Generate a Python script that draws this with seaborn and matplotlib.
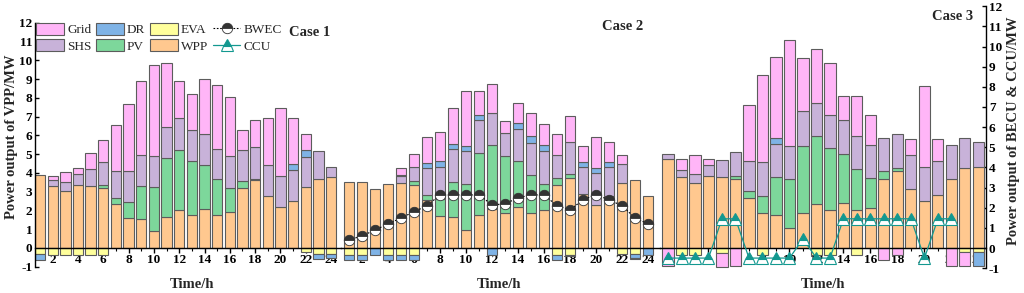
import numpy as np
import matplotlib
matplotlib.use("Agg")
import matplotlib.pyplot as plt
import seaborn as sns
from matplotlib.patches import Patch
from matplotlib.lines import Line2D

# ---------------- data ----------------
hours = list(range(1, 25))
even_ticks = list(range(2, 25, 2))
y_ticks = list(range(-1, 13))

# Case 1
c1_wpp = [3.9, 3.3, 3.05, 3.35, 3.3, 3.2, 2.35, 1.6, 1.55, 0.9, 1.65, 2.05, 1.75, 2.1, 1.75, 1.9, 3.2, 3.6, 2.75, 2.2, 2.5, 3.25, 3.7, 3.8]
c1_pv = [0, 0, 0, 0, 0, 0.15, 0.3, 0.85, 1.75, 2.35, 3.15, 3.15, 2.9, 2.3, 1.95, 1.3, 0.35, 0.1, 0, 0, 0, 0, 0, 0]
c1_shs = [0, 0.3, 0.45, 0.6, 0.9, 1.25, 1.45, 1.65, 1.65, 1.65, 1.65, 1.7, 1.65, 1.65, 1.6, 1.7, 1.65, 1.7, 1.65, 1.65, 1.65, 1.6, 1.45, 0.5]
c1_dr_pos = [0, 0, 0, 0, 0, 0, 0, 0, 0, 0, 0, 0, 0, 0, 0, 0, 0, 0, 0, 0, 0.3, 0.35, 0, 0]
c1_grid_pos = [0, 0.25, 0.55, 0.3, 0.85, 1.15, 2.45, 3.55, 3.95, 4.85, 3.4, 2.0, 1.9, 2.95, 3.4, 3.15, 1.1, 1.4, 2.55, 3.6, 2.5, 0.85, 0, 0]
c1_eva = [-0.3, -0.35, -0.35, -0.35, -0.35, -0.35, 0, 0, 0, 0, 0, 0, 0, 0, 0, 0, 0, 0, 0, 0, 0, -0.2, -0.3, -0.3]
c1_dr_neg = [-0.35, 0, 0, 0, 0, 0, 0, 0, 0, 0, 0, 0, 0, 0, 0, 0, 0, 0, 0, 0, 0, 0, -0.3, -0.25]
c1_grid_neg = [0] * 24

# Case 2
c2_wpp = [3.5, 3.5, 3.15, 3.4, 3.45, 3.35, 2.55, 1.7, 1.65, 0.95, 1.75, 2.1, 1.85, 2.2, 1.85, 2.0, 3.35, 3.75, 2.9, 2.3, 2.75, 3.45, 3.6, 2.75]
c2_pv = [0, 0, 0, 0, 0, 0.2, 0.3, 0.9, 1.85, 2.45, 3.3, 3.4, 3.05, 2.45, 2.05, 1.4, 0.4, 0.2, 0, 0, 0, 0, 0, 0]
c2_shs = [0, 0, 0, 0, 0.4, 0.75, 1.4, 1.7, 1.75, 1.75, 1.75, 1.7, 1.25, 1.7, 1.7, 1.75, 1.2, 1.7, 1.4, 1.7, 1.55, 1.0, 0, 0]
c2_dr_pos = [0, 0, 0, 0, 0.05, 0, 0.28, 0.32, 0.27, 0.3, 0.3, 0, 0, 0.3, 0.35, 0.32, 0, 0, 0.3, 0.28, 0.3, 0, 0, 0]
c2_grid_pos = [0, 0, 0, 0, 0.38, 0.7, 1.4, 1.55, 1.95, 2.9, 1.25, 1.55, 0.6, 1.05, 1.25, 1.15, 1.1, 1.4, 0.85, 1.65, 1.05, 0.5, 0, 0]
c2_eva = [-0.35, -0.35, 0, -0.35, -0.35, -0.35, 0, 0, 0, 0, 0, 0, 0, 0, 0, 0, -0.35, -0.35, 0, 0, 0, -0.3, -0.3, 0]
c2_dr_neg = [-0.3, -0.3, -0.35, -0.3, -0.3, -0.3, 0, 0, 0, 0, 0, -0.35, 0, 0, 0, 0, -0.3, -0.1, 0, 0, 0, 0, -0.25, -0.35]
c2_grid_neg = [0, 0, 0, 0, 0, 0, 0, 0, 0, 0, 0, 0, 0, 0, 0, 0, 0, 0, 0, 0, 0, 0, -0.05, 0]
c2_bwec = [0.43, 0.64, 0.96, 1.28, 1.6, 1.93, 2.25, 2.83, 2.83, 2.83, 2.83, 2.3, 2.35, 2.67, 2.83, 2.83, 2.25, 2.03, 2.57, 2.83, 2.57, 2.25, 1.6, 1.28]

# Case 3
c3_wpp = [4.41, 3.5, 3.22, 3.58, 3.5, 3.41, 2.47, 1.72, 1.63, 0.98, 1.76, 2.19, 1.91, 2.23, 1.91, 1.98, 3.44, 3.81, 2.93, 2.35, 2.65, 3.44, 3.97, 4.02]
c3_pv = [0, 0, 0, 0, 0, 0.14, 0.34, 0.88, 1.87, 2.43, 3.32, 3.38, 3.06, 2.44, 2.01, 1.5, 0.36, 0.17, 0, 0, 0, 0, 0, 0]
c3_shs = [0.24, 0.38, 0.47, 0.54, 0.88, 1.23, 1.49, 1.66, 1.65, 1.67, 1.7, 1.65, 1.65, 1.66, 1.65, 1.65, 1.65, 1.7, 1.67, 1.65, 1.69, 1.69, 1.49, 1.24]
c3_dr_pos = [0, 0, 0, 0, 0, 0, 0, 0, 0.3, 0, 0, 0, 0, 0, 0, 0, 0, 0, 0, 0, 0, 0, 0, 0]
c3_grid_pos = [0, 0.53, 0.94, 0.3, 0, 0, 2.81, 4.34, 4.03, 5.25, 2.66, 2.66, 2.56, 1.19, 1.99, 1.49, 0, 0, 0.81, 4.02, 1.08, 0, 0, 0]
c3_eva = [0, -0.33, -0.33, 0, -0.23, 0, 0, -0.33, 0, 0, 0, -0.33, -0.33, 0, -0.33, 0, 0, 0, 0, 0, 0, 0, -0.19, -0.19]
c3_dr_neg = [0, 0, 0, 0, 0, 0, 0, 0, 0, 0, 0, 0, 0, 0, 0, 0, 0, 0, 0, 0, 0, 0, 0, -0.7]
c3_grid_neg = [-0.9, 0, 0, 0, -0.7, -0.9, 0, 0, 0, 0, 0, 0, 0, 0, 0, 0, -0.6, -0.33, 0, 0, 0, -0.9, -0.7, 0]
c3_ccu = [-0.5, -0.5, -0.5, -0.5, 1.45, 1.45, -0.5, -0.5, -0.5, -0.5, 0.45, -0.5, -0.5,
          1.45, 1.45, 1.45, 1.45, 1.45, 1.45, -0.5, 1.45, 1.45, np.nan, np.nan]

# ---------------- style ----------------
C_GRID = "#FFB5F7"
C_SHS = "#C8B2D9"
C_DR = "#7FB3E6"
C_PV = "#7DD79B"
C_EVA = "#FFFF9C"
C_WPP = "#FFC88F"
C_CCU = "#139890"
EDGE = "#5c5c5c"

sns.set_theme(style="white")
plt.rcParams["font.family"] = ["Liberation Serif", "DejaVu Serif"]
plt.rcParams["axes.linewidth"] = 1.0

W, H = 1024, 293
fig = plt.figure(figsize=(W / 100, H / 100), dpi=100)


def px_axes(x0, x1, y0=5, y1=269):
    return fig.add_axes([x0 / W, 1 - y1 / H, (x1 - x0) / W, (y1 - y0) / H])


ax1 = px_axes(35, 341)
ax2 = px_axes(341, 660)
ax3 = px_axes(660, 986)


def draw_case(ax, pos_layers, neg_layers):
    x = np.array(hours)
    bottom = np.zeros(24)
    for vals, color in pos_layers:
        v = np.array(vals, float)
        m = v != 0
        ax.bar(x[m], v[m], bottom=bottom[m], width=0.82, color=color,
               edgecolor=EDGE, linewidth=0.8, zorder=2)
        bottom += v
    nb = np.zeros(24)
    for vals, color in neg_layers:
        v = np.array(vals, float)
        m = v != 0
        ax.bar(x[m], v[m], bottom=nb[m], width=0.82, color=color,
               edgecolor=EDGE, linewidth=0.8, zorder=2)
        nb += v


draw_case(ax1, [(c1_wpp, C_WPP), (c1_pv, C_PV), (c1_shs, C_SHS), (c1_dr_pos, C_DR), (c1_grid_pos, C_GRID)],
          [(c1_eva, C_EVA), (c1_dr_neg, C_DR), (c1_grid_neg, C_GRID)])
draw_case(ax2, [(c2_wpp, C_WPP), (c2_pv, C_PV), (c2_shs, C_SHS), (c2_dr_pos, C_DR), (c2_grid_pos, C_GRID)],
          [(c2_eva, C_EVA), (c2_dr_neg, C_DR), (c2_grid_neg, C_GRID)])
draw_case(ax3, [(c3_wpp, C_WPP), (c3_pv, C_PV), (c3_shs, C_SHS), (c3_dr_pos, C_DR), (c3_grid_pos, C_GRID)],
          [(c3_eva, C_EVA), (c3_dr_neg, C_DR), (c3_grid_neg, C_GRID)])

bwec_kw = dict(color="black", linestyle=(0, (1.5, 1.5)), linewidth=0.8, marker="o", markersize=7.5,
               fillstyle="top", markerfacecolor="#333333", markerfacecoloralt="white",
               markeredgecolor="#333333", markeredgewidth=0.6)
ccu_kw = dict(color=C_CCU, linestyle="-", linewidth=0.9, marker="^", markersize=9,
              fillstyle="top", markerfacecolor=C_CCU, markerfacecoloralt="white",
              markeredgecolor=C_CCU, markeredgewidth=0.8)

sns.lineplot(x=hours, y=c2_bwec, ax=ax2, zorder=5, legend=False, **bwec_kw)
sns.lineplot(x=hours, y=c3_ccu, ax=ax3, zorder=5, legend=False, **ccu_kw)

# ---------------- axes ----------------
xlims = [(0.6, 24.79), (0.385, 24.92), (0.407, 24.56)]
ylims = [(-1.119, 12.946), (-1.119, 12.946), (-1.042, 12.06)]
tick_font = dict(family=["Liberation Serif"], weight="bold", size=9.5)

for ax, xl, yl in zip([ax1, ax2, ax3], xlims, ylims):
    ax.set_xlim(*xl)
    ax.set_ylim(*yl)
    ax.set_facecolor("none")
    ax.set_xlabel("")
    ax.set_ylabel("")
    for s in ["top", "right", "left"]:
        ax.spines[s].set_visible(False)
    ax.spines["bottom"].set_position(("data", 0))
    ax.spines["bottom"].set_color("black")
    ax.spines["bottom"].set_zorder(3)
    ax.set_xticks(even_ticks)
    ax.set_xticks(hours, minor=True)
    ax.set_xticklabels([str(t) for t in even_ticks], fontdict=tick_font)
    ax.tick_params(axis="x", which="major", direction="out", length=3.5, width=1, pad=0.5, colors="black", bottom=True)
    ax.tick_params(axis="x", which="minor", direction="out", length=2.5, width=0.8, colors="black", bottom=True)
    ax.set_yticks([])

# left axis (case 1)
ax1.spines["left"].set_visible(True)
ax1.spines["left"].set_color("black")
ax1.spines["left"].set_bounds(-1, 12)
ax1.set_yticks(y_ticks)
ax1.set_yticklabels([str(t) for t in y_ticks], fontdict=tick_font)
ax1.tick_params(axis="y", direction="in", length=3, width=1, pad=2, left=True, colors="black")

# right axis (case 3)
ax3.spines["right"].set_visible(True)
ax3.spines["right"].set_color("black")
ax3.spines["right"].set_bounds(-1, 12)
ax3.yaxis.tick_right()
ax3.set_yticks(y_ticks)
ax3.set_yticklabels([str(t) for t in y_ticks], fontdict=tick_font)
ax3.tick_params(axis="y", direction="in", length=3, width=1, pad=2, right=True, left=False, colors="black")

# ---------------- texts ----------------
lab_font = dict(family=["Liberation Serif"], weight="bold", size=10.5)
fig.text(12 / W, 1 - 137 / H, "Power output of VPP/MW", rotation=90, ha="center", va="center", **lab_font)
fig.text(1013 / W, 1 - 131 / H, "Power output of BECU & CCU/MW", rotation=90, ha="center", va="center", **lab_font)
for xc in [192, 499, 823]:
    fig.text(xc / W, 1 - 285 / H, "Time/h", ha="center", va="center", **lab_font)

case_font = dict(family=["Liberation Serif"], weight="bold", size=10.5)
fig.text(310 / W, 1 - 32 / H, "Case 1", ha="center", va="center", **case_font)
fig.text(623 / W, 1 - 27 / H, "Case 2", ha="center", va="center", **case_font)
fig.text(953 / W, 1 - 17 / H, "Case 3", ha="center", va="center", **case_font)

# ---------------- legend ----------------
def patch(c):
    return Patch(facecolor=c, edgecolor=EDGE, linewidth=0.8)


handles = [patch(C_GRID), patch(C_SHS), patch(C_DR), patch(C_PV), patch(C_EVA), patch(C_WPP),
           Line2D([], [], **bwec_kw), Line2D([], [], **ccu_kw)]
labels = ["Grid", "SHS", "DR", "PV", "EVA", "WPP", "BWEC", "CCU"]
ax1.legend(handles, labels, ncol=4, loc="upper left", bbox_to_anchor=(36 / W, 1 - 23 / H),
           bbox_transform=fig.transFigure, frameon=False,
           prop=dict(family=["Liberation Serif"], size=9.5),
           handlelength=2.1, handleheight=1.0, handletextpad=0.25, columnspacing=0.35,
           labelspacing=0.22, borderaxespad=0, borderpad=0)

fig.savefig("out.png", dpi=100)
